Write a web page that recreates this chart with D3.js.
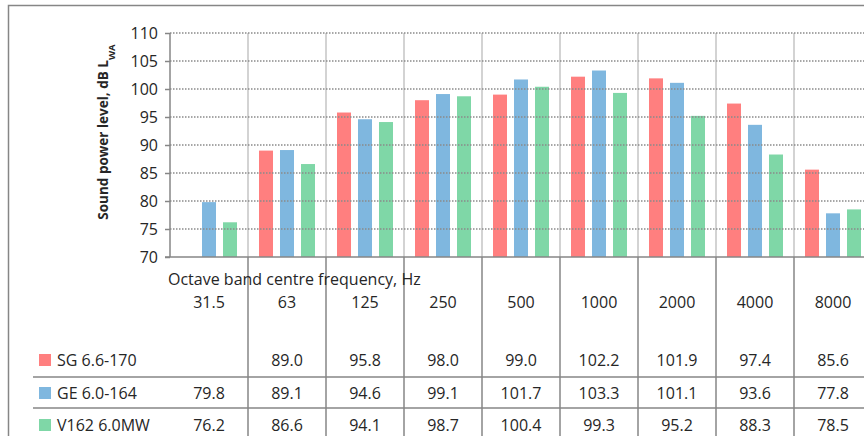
<!DOCTYPE html>
<html>
<head>
<meta charset="utf-8">
<script src="https://cdn.jsdelivr.net/npm/d3@7"></script>
<style>
  body { margin: 0; background: #fff; }
  svg { display: block; }
</style>
</head>
<body>
<div id="chart"></div>
<script>
// data
var categories = ["31.5", "63", "125", "250", "500", "1000", "2000", "4000", "8000"];
var seriesNames = ["SG 6.6-170", "GE 6.0-164", "V162 6.0MW"];
var sg = [null, 89.0, 95.8, 98.0, 99.0, 102.2, 101.9, 97.4, 85.6];
var ge = [79.8, 89.1, 94.6, 99.1, 101.7, 103.3, 101.1, 93.6, 77.8];
var v162 = [76.2, 86.6, 94.1, 98.7, 100.4, 99.3, 95.2, 88.3, 78.5];
var yTicks = [70, 75, 80, 85, 90, 95, 100, 105, 110];

var colors = ["#ff0000", "#0070c0", "#00b050"];
var allSeries = [sg, ge, v162];

var w = 864;
var h = 436;
var font = "'Open Sans', sans-serif";
var textCol = "#262626";
var lineCol = "#868686";

var svg = d3.select("#chart")
    .append("svg")
    .attr("width", w)
    .attr("height", h)
    .style("font-family", font);

// plot area
var pLeft = 170, pTop = 33, pBottom = 257;
var xScale = d3.scaleBand().domain(categories).range([pLeft, pLeft + categories.length * 78]);
var inner = d3.scaleBand().domain([0, 1, 2]).range([11, 67]).paddingInner(1 / 3);
var yScale = d3.scaleLinear().domain([70, 110]).range([pBottom, pTop]);

// outer chart border
svg.append("rect")
    .attr("x", 8.5).attr("y", 5.5)
    .attr("width", 900).attr("height", 500)
    .attr("fill", "none")
    .attr("stroke", lineCol)
    .attr("stroke-width", 1.5);

// vertical gridlines inside plot
svg.append("g")
    .selectAll("line")
    .data(categories.slice(1))
    .enter()
    .append("line")
    .attr("x1", function (d) { return xScale(d); })
    .attr("x2", function (d) { return xScale(d); })
    .attr("y1", pTop)
    .attr("y2", pBottom)
    .attr("stroke", "#c4c4c4")
    .attr("stroke-width", 1.5);

// bars (semi transparent, so gridlines show through like in excel)
var rows = [];
allSeries.forEach(function (s, si) {
    s.forEach(function (v, ci) {
        if (v != null) rows.push({ s: si, c: categories[ci], v: v });
    });
});

svg.append("g")
    .selectAll("rect")
    .data(rows)
    .enter()
    .append("rect")
    .attr("x", function (d) { return xScale(d.c) + inner(d.s); })
    .attr("y", function (d) { return yScale(d.v); })
    .attr("width", inner.bandwidth())
    .attr("height", function (d) { return yScale(70) - yScale(d.v); })
    .attr("fill", function (d) { return colors[d.s]; })
    .attr("fill-opacity", 0.5);

// horizontal dotted gridlines
svg.append("g")
    .selectAll("line")
    .data(yTicks.slice(1))
    .enter()
    .append("line")
    .attr("x1", pLeft)
    .attr("x2", w)
    .attr("y1", function (d) { return yScale(d); })
    .attr("y2", function (d) { return yScale(d); })
    .attr("stroke", "#8a8a8a")
    .attr("stroke-width", 1.5)
    .attr("stroke-dasharray", "1.5,1.5");

// y axis
var yAxis = svg.append("g")
    .attr("transform", "translate(" + pLeft + ",0)")
    .call(d3.axisLeft(yScale).tickValues(yTicks).tickSize(5).tickPadding(7));
yAxis.selectAll("path, line").attr("stroke", lineCol).attr("stroke-width", 1.5);
yAxis.select(".domain").attr("d", "M0," + pBottom + "V" + pTop);
yAxis.selectAll("text")
    .style("font-family", font)
    .style("font-size", "16px")
    .attr("fill", textCol);

// y axis title
var yt = svg.append("text")
    .attr("transform", "translate(108,132) rotate(-90)")
    .attr("text-anchor", "middle")
    .style("font-size", "13.5px")
    .style("font-weight", "bold")
    .attr("fill", textCol);
yt.append("tspan").text("Sound power level, dB L");
yt.append("tspan").attr("baseline-shift", "sub").style("font-size", "9.5px").text("WA");

// x axis line
svg.append("line")
    .attr("x1", pLeft - 5).attr("x2", w)
    .attr("y1", pBottom).attr("y2", pBottom)
    .attr("stroke", lineCol)
    .attr("stroke-width", 1.5);

// data table lines
svg.append("g")
    .selectAll("line")
    .data(categories.slice(1))
    .enter()
    .append("line")
    .attr("x1", function (d) { return xScale(d); })
    .attr("x2", function (d) { return xScale(d); })
    .attr("y1", pBottom)
    .attr("y2", h)
    .attr("stroke", lineCol)
    .attr("stroke-width", 1.5);

var rowY = [360, 393, 425];
svg.append("g")
    .selectAll("line")
    .data([377, 408])
    .enter()
    .append("line")
    .attr("x1", 33).attr("x2", w)
    .attr("y1", function (d) { return d; })
    .attr("y2", function (d) { return d; })
    .attr("stroke", lineCol)
    .attr("stroke-width", 1.5);

// axis title
svg.append("text")
    .attr("x", 168)
    .attr("y", 279)
    .attr("dy", "0.35em")
    .style("font-size", "16px")
    .attr("fill", textCol)
    .text("Octave band centre frequency, Hz");

// category labels
svg.append("g")
    .selectAll("text")
    .data(categories)
    .enter()
    .append("text")
    .attr("x", function (d) { return xScale(d) + xScale.bandwidth() / 2; })
    .attr("y", 302)
    .attr("dy", "0.35em")
    .attr("text-anchor", "middle")
    .style("font-size", "16px")
    .attr("fill", textCol)
    .text(function (d) { return d; });

// legend keys + series names
seriesNames.forEach(function (name, si) {
    svg.append("rect")
        .attr("x", 39)
        .attr("y", rowY[si] - 6)
        .attr("width", 12)
        .attr("height", 12)
        .attr("fill", colors[si])
        .attr("fill-opacity", 0.5);
    svg.append("text")
        .attr("x", 57)
        .attr("y", rowY[si])
        .attr("dy", "0.35em")
        .style("font-size", "16px")
        .attr("fill", textCol)
        .text(name);

    svg.append("g")
        .selectAll("text")
        .data(allSeries[si])
        .enter()
        .append("text")
        .attr("x", function (d, i) { return xScale(categories[i]) + xScale.bandwidth() / 2; })
        .attr("y", rowY[si])
        .attr("dy", "0.35em")
        .attr("text-anchor", "middle")
        .style("font-size", "16px")
        .attr("fill", textCol)
        .text(function (d) { return d == null ? "" : d.toFixed(1); });
});
</script>
</body>
</html>
